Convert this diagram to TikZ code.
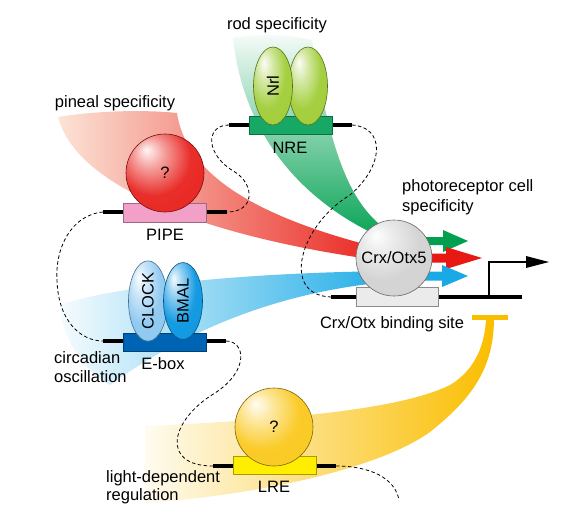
\documentclass[tikz,border=0pt]{standalone}
\usepackage{fontspec}
\setmainfont{Liberation Sans}
\usepackage{graphicx}
\usetikzlibrary{shapes.geometric}
\colorlet{sphc}{red}
\pgfdeclareradialshading[sphc]{sphere}{\pgfqpoint{-12bp}{15bp}}{color(0bp)=(sphc!4!white); color(10bp)=(sphc!45!white); color(24bp)=(sphc!95!white); color(46bp)=(sphc); color(66bp)=(sphc!82!black)}
\definecolor{nreg}{RGB}{22,168,100}
\definecolor{nrlg}{RGB}{160,205,55}
\definecolor{gband}{RGB}{0,160,80}
\definecolor{rsph}{RGB}{232,35,30}
\definecolor{rband}{RGB}{232,25,20}
\definecolor{rmid}{RGB}{238,105,70}
\definecolor{rpale}{RGB}{252,228,214}
\definecolor{pipec}{RGB}{242,160,200}
\definecolor{eboxc}{RGB}{0,100,180}
\definecolor{clockc}{RGB}{140,200,240}
\definecolor{bmalc}{RGB}{10,150,225}
\definecolor{bband}{RGB}{25,170,230}
\definecolor{ysph}{RGB}{250,200,30}
\definecolor{lrec}{RGB}{255,238,0}
\definecolor{yband}{RGB}{250,190,0}
\definecolor{crxc}{RGB}{210,210,210}
\definecolor{bsite}{RGB}{235,235,235}
\begin{document}
\begin{tikzpicture}[x=1pt,y=-1pt,
  lbl/.style={font=\fontsize{16.5}{20}\selectfont, inner sep=0pt},
  site/.style={draw=#1!65!black, fill=#1, line width=0.5, minimum width=83, minimum height=18, inner sep=0},
  sph/.style={circle, draw=#1!50!black, line width=0.6, shading=sphere, /utils/exec={\colorlet{sphc}{#1}}, minimum size=78, inner sep=0, font=\fontsize{16.5}{20}\selectfont},
  egg/.style={ellipse, draw=#1!55!black, line width=0.6, shading=sphere, /utils/exec={\colorlet{sphc}{#1}}, minimum width=39, minimum height=78, inner sep=0, font=\fontsize{16.5}{20}\selectfont},
  dna/.style={line width=4.5, black},
  loopdna/.style={line width=0.8, black, dash pattern=on 3.5pt off 2.5pt}
]
\useasboundingbox (0,0) rectangle (584,507);

% ---- coloured bands ----
\shade[top color=gband!4, middle color=gband!50, bottom color=gband]
  (233,38) .. controls (245,150) and (320,215) .. (400,245) -- (400,237)
  .. controls (350,215) and (330,150) .. (312,40) .. controls (290,34) and (255,34) .. cycle;
\shade[left color=rpale, middle color=rmid, right color=rband]
  (58,117) .. controls (100,110) and (150,110) .. (177,113)
  .. controls (188,185) and (280,225) .. (400,253) -- (400,263)
  .. controls (250,245) and (80,200) .. cycle;
\shade[left color=bband!4, right color=bband]
  (60,305) .. controls (120,285) and (250,272) .. (400,271) -- (400,281)
  .. controls (300,288) and (200,320) .. (110,385)
  .. controls (80,370) and (60,330) .. cycle;
\shade[left color=yband!6, middle color=yband!85, right color=yband]
  (145,426) .. controls (280,420) and (400,410) .. (450,385)
  .. controls (475,370) and (485,345) .. (486,318) -- (494,318)
  .. controls (494,370) and (470,400) .. (430,432)
  .. controls (380,468) and (260,495) .. (145,503) -- cycle;

% ---- DNA end points ----
\coordinate (nreL) at (229,125); \coordinate (nreR) at (352,125);
\coordinate (pipeL) at (103,212); \coordinate (pipeR) at (227,212);
\coordinate (eL) at (103,341); \coordinate (eR) at (226,341);
\coordinate (lreL) at (213,466); \coordinate (lreR) at (336,466);
\coordinate (bsL) at (331,297); \coordinate (bsR) at (522,297);
\coordinate (loopend) at (399,500);

% ---- looping DNA ----
\draw[loopdna] (nreR) .. controls (385,127) and (385,165) .. (350,195)
  .. controls (300,225) and (280,295) .. (bsL);
\draw[loopdna] (nreL) .. controls (205,125) and (205,155) .. (235,172)
  .. controls (255,185) and (255,212) .. (pipeR);
\draw[loopdna] (pipeL) .. controls (70,215) and (55,250) .. (57,280)
  .. controls (58,320) and (80,341) .. (eL);
\draw[loopdna] (eR) .. controls (245,341) and (250,370) .. (215,393)
  .. controls (170,420) and (160,466) .. (lreL);
\draw[loopdna] (lreR) .. controls (370,466) and (395,478) .. (loopend);

% ---- repression bar ----
\coordinate (tL) at (472,317.5); \coordinate (tR) at (508,317.5);
\draw[yband, line width=5] (tL) -- (tR);

% ---- DNA segments ----
\draw[dna] (nreL) -- (nreR);
\draw[dna] (pipeL) -- (pipeR);
\draw[dna] (eL) -- (eR);
\draw[dna] (lreL) -- (lreR);
\draw[dna] (bsL) -- (bsR);

% ---- binding sites ----
\node[site=nreg] (nre) at (291,125) {};
\node[site=pipec, minimum height=19] (pipe) at (165,212.5) {};
\node[site=eboxc] (ebox) at (164.5,342) {};
\node[site=lrec] (lre) at (274.5,465) {};
\node[site=bsite, draw=black!45, minimum width=82, minimum height=19] (bs) at (397,296.5) {};

% ---- factors ----
\node[egg=nrlg] (nrl2) at (308,86) {};
\node[egg=nrlg] (nrl) at (273,86) {\rotatebox{90}{Nrl}};
\node[sph=rsph] (pipeq) at (165,173) {?};
\node[egg=clockc, minimum height=77] (clock) at (148,301) {\rotatebox{90}{CLOCK}};
\node[egg=bmalc, minimum height=77] (bmal) at (183,301) {\rotatebox{90}{BMAL}};
\node[sph=ysph] (lreq) at (274,427) {?};

% ---- output arrows ----
\fill[gband] (400,237) -- (443,237) -- (443,230) -- (468,241) -- (443,252) -- (443,245) -- (400,245) -- cycle;
\fill[rband] (400,253.5) -- (446,253.5) -- (446,247) -- (482,258) -- (446,269) -- (446,262.5) -- (400,262.5) -- cycle;
\fill[bband] (400,271.5) -- (442,271.5) -- (442,265) -- (468,276) -- (442,287) -- (442,280.5) -- (400,280.5) -- cycle;

\node[sph=crxc, minimum size=76] (crx) at (394,258) {Crx/Otx5};

% ---- transcription start ----
\coordinate (tss) at (489,297); \coordinate (tssTop) at (489,262); \coordinate (tssEnd) at (527,262);
\draw[line width=1.8, black] (tss) -- (tssTop) -- (tssEnd);
\fill[black] (526,256) -- (549,262) -- (526,268) -- cycle;

% ---- labels ----
\node[lbl] (rodlbl) at (277,25) {rod specificity};
\node[lbl] (nrelbl) at (290,148) {NRE};
\node[lbl] (pinlbl) at (115,103) {pineal specificity};
\node[lbl] (pipelbl) at (165,235) {PIPE};
\node[lbl, anchor=west, align=left] (photolbl) at (402,197) {photoreceptor cell\\specificity};
\node[lbl] (bslbl) at (392,324) {Crx/Otx binding site};
\node[lbl, anchor=west, align=left, font=\fontsize{16.5}{19}\selectfont] (circlbl) at (54,367.5) {circadian\\oscillation};
\node[lbl] (eboxlbl) at (163,364) {E-box};
\node[lbl, anchor=west, align=left, font=\fontsize{16.5}{18.5}\selectfont] (lightlbl) at (106,487) {light-dependent\\regulation};
\node[lbl] (lrelbl) at (274,487) {LRE};
\end{tikzpicture}
\end{document}
